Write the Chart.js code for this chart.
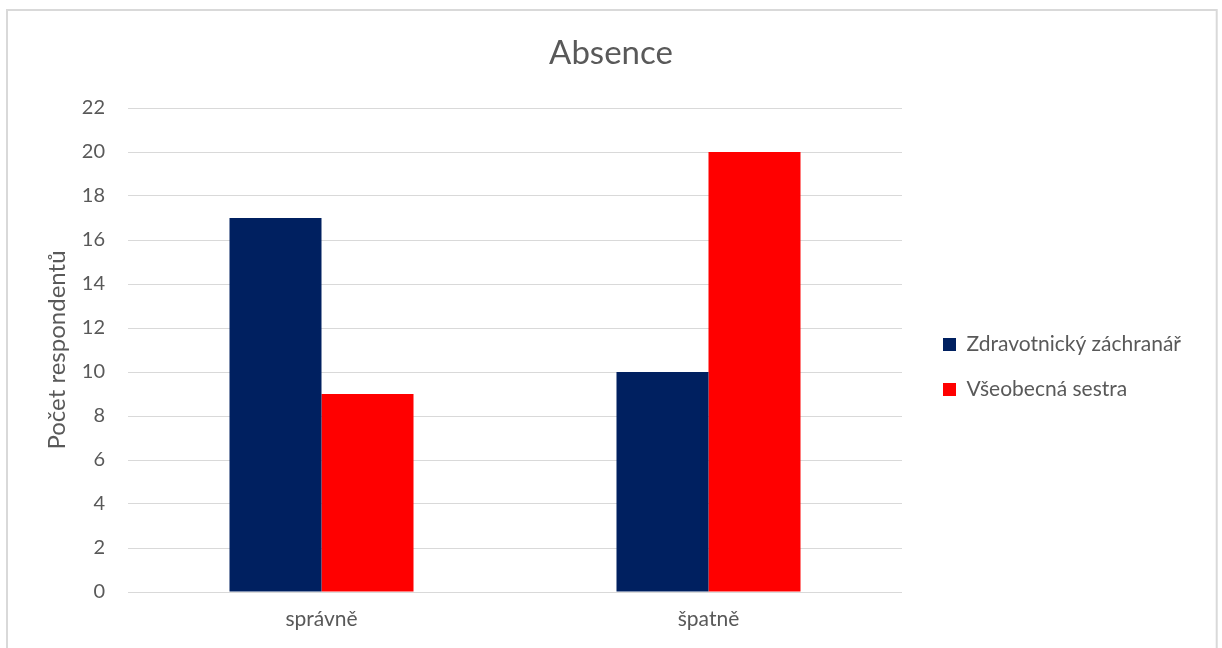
<!DOCTYPE html>
<html>
<head>
<meta charset="utf-8">
<style>
  html, body { margin: 0; padding: 0; background: #ffffff; }
  #c { display: block; }
</style>
<script src="https://cdn.jsdelivr.net/npm/chart.js@4.4.1/dist/chart.umd.min.js"></script>
</head>
<body>
<canvas id="c" width="1222" height="648"></canvas>
<script>
const chartTitle = "Absence";
const categories = ["správně", "špatně"];
const seriesNames = ["Zdravotnický záchranář", "Všeobecná sestra"];
const zachranarValues = [17, 10];
const sestraValues = [9, 20];
const yTicks = [0, 2, 4, 6, 8, 10, 12, 14, 16, 18, 20, 22];
const yAxisTitle = "Počet respondentů";

const FONT = "Lato, 'Open Sans', sans-serif";
const TEXT = "#595959";
const GRID = "#d9d9d9";

const PLOT_LEFT = 128, PLOT_RIGHT = 902, PLOT_BOTTOM = 592;
const LEGEND_X = 943, LEGEND_PAD = 24, LEGEND_DY = 43;

const frame = {
  id: 'frame',
  beforeDraw(chart) {
    const ctx = chart.ctx;
    ctx.save();
    ctx.fillStyle = '#ffffff';
    ctx.fillRect(0, 0, chart.width, chart.height);
    ctx.strokeStyle = GRID;
    ctx.lineWidth = 2;
    ctx.strokeRect(7, 10, 1209.7, 800);
    ctx.restore();
  }
};

const legendTweak = {
  id: 'legendTweak',
  beforeLayout(chart) {
    const lg = chart.legend;
    if (lg && !lg._patched) {
      const f = lg.fit;
      lg.fit = function () {
        f.call(this);
        if (!this.isHorizontal()) this.width = chart.width - PLOT_RIGHT;
      };
      lg._patched = true;
    }
  },
  afterLayout(chart) {
    const lg = chart.legend;
    const dx = LEGEND_X - PLOT_RIGHT - LEGEND_PAD;
    lg.left += dx; lg.right += dx;
    lg.top += LEGEND_DY; lg.bottom += LEGEND_DY;
  }
};

new Chart(document.getElementById('c'), {
  type: 'bar',
  data: {
    labels: categories,
    datasets: [
      { label: seriesNames[0], data: zachranarValues, backgroundColor: '#002060' },
      { label: seriesNames[1], data: sestraValues, backgroundColor: '#ff0000' }
    ]
  },
  options: {
    responsive: false,
    devicePixelRatio: 1,
    animation: false,
    layout: { padding: 0 },
    datasets: { bar: { categoryPercentage: 0.4755, barPercentage: 1.0 } },
    plugins: {
      title: {
        display: true,
        text: chartTitle,
        color: TEXT,
        font: { family: FONT, size: 33, weight: 'normal', lineHeight: 1.2 },
        padding: { top: 34, bottom: 34.4 }
      },
      legend: {
        position: 'right',
        labels: {
          color: TEXT,
          font: { family: FONT, size: 21 },
          boxWidth: 13,
          boxHeight: 13,
          padding: LEGEND_PAD
        }
      },
      tooltip: { enabled: false }
    },
    scales: {
      x: {
        grid: { display: false, drawTicks: false },
        border: { display: false },
        ticks: { color: TEXT, font: { family: FONT, size: 21 }, padding: 15 },
        afterFit(s) { s.height = 648 - PLOT_BOTTOM; }
      },
      y: {
        min: 0,
        max: 22,
        afterBuildTicks(s) { s.ticks = yTicks.map(v => ({ value: v })); },
        grid: { color: GRID, lineWidth: 1, drawTicks: false },
        border: { display: false },
        ticks: { color: TEXT, font: { family: FONT, size: 20 }, padding: 23 },
        title: {
          display: true,
          text: yAxisTitle,
          color: TEXT,
          font: { family: FONT, size: 24 },
          padding: { top: 42.6, bottom: 0 }
        },
        afterFit(s) { s.width = PLOT_LEFT; }
      }
    }
  },
  plugins: [frame, legendTweak]
});
</script>
</body>
</html>
